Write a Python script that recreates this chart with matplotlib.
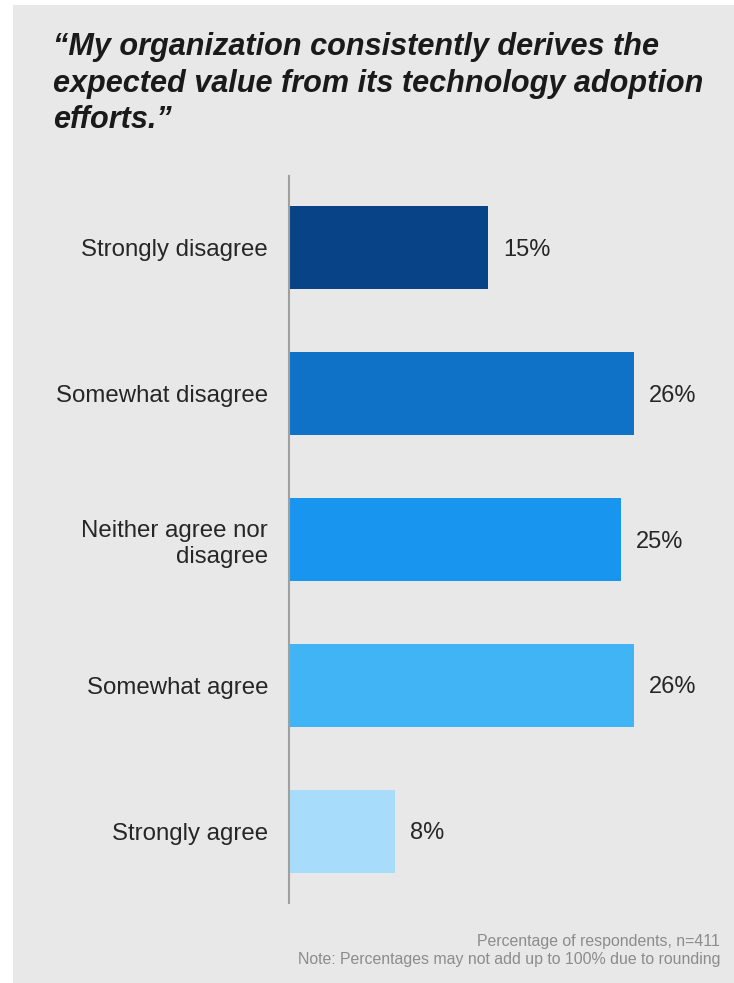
import matplotlib.pyplot as plt
from matplotlib.patches import Rectangle

# survey answers and share of respondents (%)
answers = ['Strongly disagree', 'Somewhat disagree', 'Neither agree nor\ndisagree',
           'Somewhat agree', 'Strongly agree']
shares = [15, 26, 25, 26, 8]
bar_colors = ['#084388', '#0F72C7', '#1896EF', '#41B4F5', '#A7DDFB']

title = '\u201cMy organization consistently derives the\nexpected value from its technology adoption\nefforts.\u201d'
notes = 'Percentage of respondents, n=411\nNote: Percentages may not add up to 100% due to rounding'

plt.rcParams['font.family'] = ['Liberation Sans', 'DejaVu Sans']

W, H = 734, 983
fig = plt.figure(figsize=(W / 100, H / 100), dpi=100, facecolor='white')

# grey panel behind everything
fig.patches.append(Rectangle((13 / W, 0), 1 - 13 / W, 1 - 5 / H,
                             transform=fig.transFigure, facecolor='#E8E8E8',
                             edgecolor='none', zorder=-1))

ax = fig.add_axes([289 / W, 80 / H, (727 - 289) / W, 727 / H])
ax.set_zorder(2)
ax.set_facecolor('none')

pos = list(range(len(answers)))
ax.barh(pos, shares, height=0.57, color=bar_colors)
for p, v in zip(pos, shares):
    ax.annotate(f'{v}%', xy=(v, p), xytext=(15, -2), textcoords='offset pixels',
                va='center', ha='left', fontsize=17, color='#262626')

ax.set_yticks(pos)
ax.set_yticklabels(answers, fontsize=17.3, color='#262626', ha='right',
                   linespacing=1.22)
ax.tick_params(axis='y', length=0, pad=15)
ax.set_xticks([])
ax.set_xlim(0, 33)
ax.set_ylim(len(answers) - 0.51, -0.49)

for s in ['top', 'right', 'bottom']:
    ax.spines[s].set_visible(False)
ax.spines['left'].set_color('#A0A0A0')
ax.spines['left'].set_linewidth(1.5)

fig.text(53 / W, 1 - 32 / H, title, ha='left', va='top', fontsize=22.1,
         fontweight='bold', fontstyle='italic', color='#1A1A1A', linespacing=1.29)

fig.text(720 / W, 1 - 934 / H, notes, ha='right', va='top', fontsize=11.4,
         color='#8C8C8C', linespacing=1.25, multialignment='right')

fig.savefig('out.png', dpi=100, facecolor=fig.get_facecolor())
